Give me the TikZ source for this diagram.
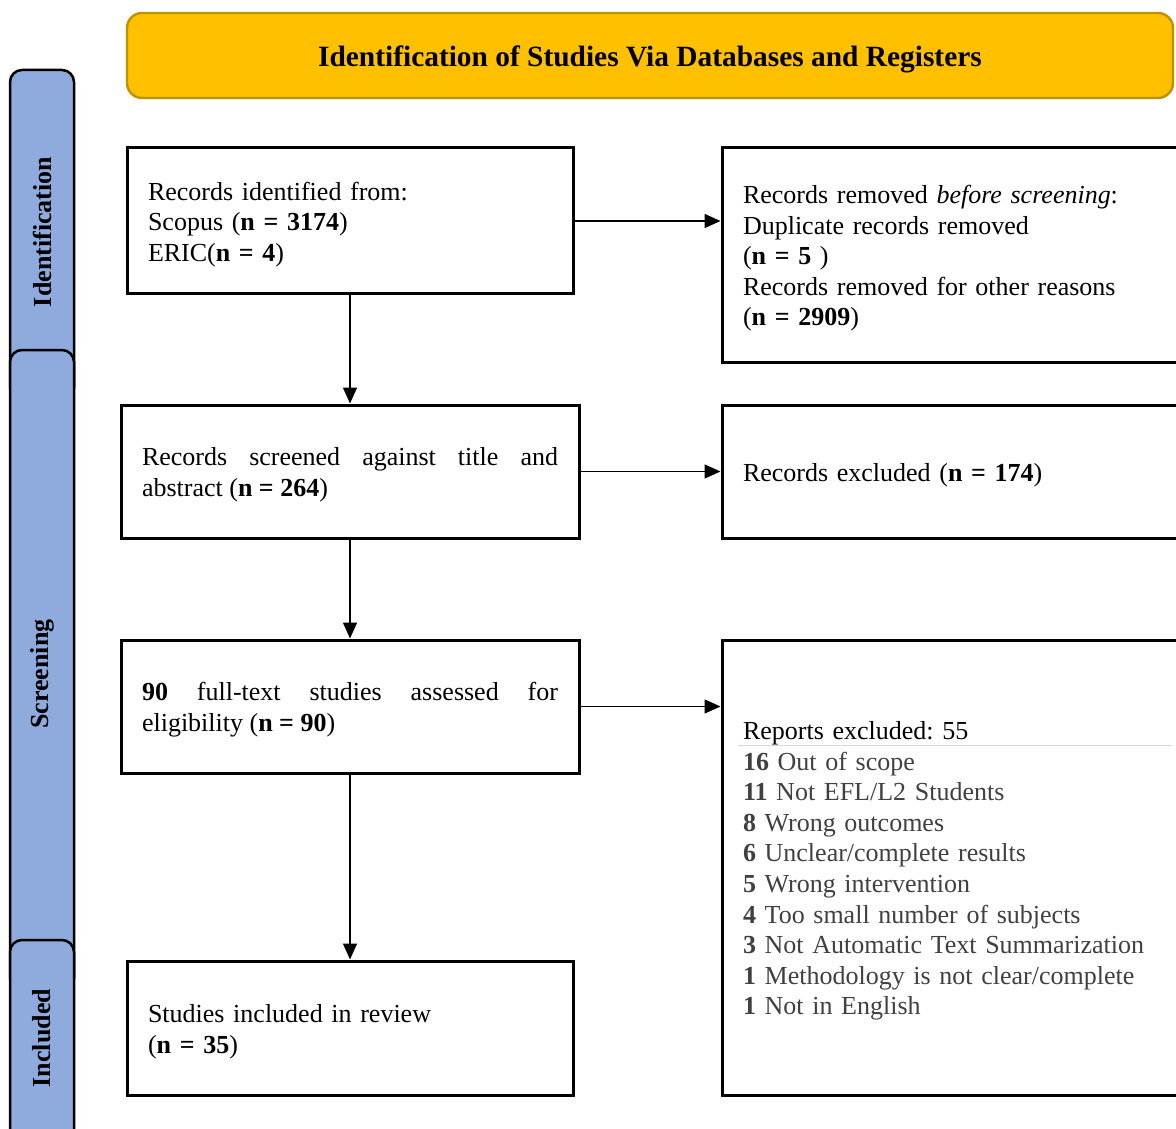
\documentclass[tikz,border=0pt]{standalone}
\usepackage{fontspec}
\setmainfont{Liberation Serif}
\usetikzlibrary{arrows.meta, positioning}

\definecolor{bannergold}{HTML}{FFC000}
\definecolor{bannerline}{HTML}{BF9000}
\definecolor{stageblue}{HTML}{8FAADC}
\definecolor{reasongray}{HTML}{404040}

\newcommand\reason[2]{\textcolor{reasongray}{\textbf{#1} #2}}

\tikzset{
  flowbox/.style={draw, line width=1.5pt, inner xsep=10.5pt, inner ysep=0pt,
    font=\fontsize{13}{15.3}\selectfont\frenchspacing,
    execute at begin node={\rule{0pt}{12.5pt}}},
  leftbox/.style={flowbox, text width=202pt, minimum height=73pt, align=left},
  widebox/.style={flowbox, text width=208pt, minimum height=66.5pt, align=justify},
  sidebox/.style={flowbox, text width=211pt, align=left},
  banner/.style={draw=bannerline, line width=1.2pt, fill=bannergold, rounded corners=7.5pt,
    minimum width=523pt, minimum height=42.5pt, font=\fontsize{14.7}{17}\selectfont\bfseries},
  stagebar/.style={draw, line width=1.25pt, fill=stageblue, rounded corners=6pt},
  stagelabel/.style={rotate=90, font=\fontsize{13}{15}\selectfont\bfseries},
}

\begin{document}
\begin{tikzpicture}[x=0.5pt, y=-0.5pt, >={Triangle[length=8pt,width=7pt]}, line width=0.75pt]
\useasboundingbox (0,0) rectangle (1176,1128);

% stage bars on the left
  \draw[stagebar] (10,400) rectangle (74,70);
  \draw[stagebar] (10,990) rectangle (74,350);
  \draw[stagebar] (10,1160) rectangle (74,940);
  \node[stagelabel] (sid)  at (42,232)  {Identification};
  \node[stagelabel] (sscr) at (42,674)  {Screening};
  \node[stagelabel] (sinc) at (42,1038) {Included};

% title banner
  \node[banner] (title) at (650,55.5) {\raisebox{-5.5pt}[6pt][6pt]{Identification of Studies Via Databases and Registers}};

% main column
  \node[leftbox] (b1) at (350,221)
{Records identified from:\\ Scopus (\textbf{n = 3174})\\ ERIC(\textbf{n = 4})};
  \node[widebox] (b2) [below=54pt of b1]
{Records screened against title and\linebreak abstract (\textbf{n = 264})};
  \node[widebox] (b3) [below=49.5pt of b2]
{\textbf{90} full-text studies assessed for\linebreak eligibility (\textbf{n = 90})};
  \node[leftbox, minimum height=67pt] (b4) [below=92.5pt of b3]
{Studies included in review\\ (\textbf{n = 35})};

% side column
  \node[sidebox, minimum height=107pt] (r1) [right=73pt of b1.north east, anchor=north west]
{Records removed \textit{before screening}:\\ Duplicate records removed\\ (\textbf{n = 5} )\\
 Records removed for other reasons\\ (\textbf{n = 2909})};
  \node[sidebox, minimum height=66.5pt] (r2) [right=70pt of b2]
{Records excluded (\textbf{n = 174})};
  \node[sidebox, minimum height=227.5pt] (r3) [right=70pt of b3.north east, anchor=north west]
{Reports excluded: 55\\ \reason{16}{Out of scope}\\ \reason{11}{Not EFL/L2 Students}\\
 \reason{8}{Wrong outcomes}\\ \reason{6}{Unclear/complete results}\\
 \reason{5}{Wrong intervention}\\ \reason{4}{Too small number of subjects}\\
 \reason{3}{Not Automatic Text Summarization}\\ \reason{1}{Methodology is not clear/complete}\\
 \reason{1}{Not in English}};
  \draw[black!15, line width=0.5pt] (738,745) -- (1172,745);

% define the links
  \draw[->] (b1) -- (b2);
  \draw[->] (b2) -- (b3);
  \draw[->] (b3) -- (b4);
  \draw[->] (b1.east) -- (b1.east -| r1.west);
  \draw[->] (b2.east) -- (b2.east -| r2.west);
  \draw[->] (b3.east) -- (b3.east -| r3.west);

\end{tikzpicture}
\end{document}
